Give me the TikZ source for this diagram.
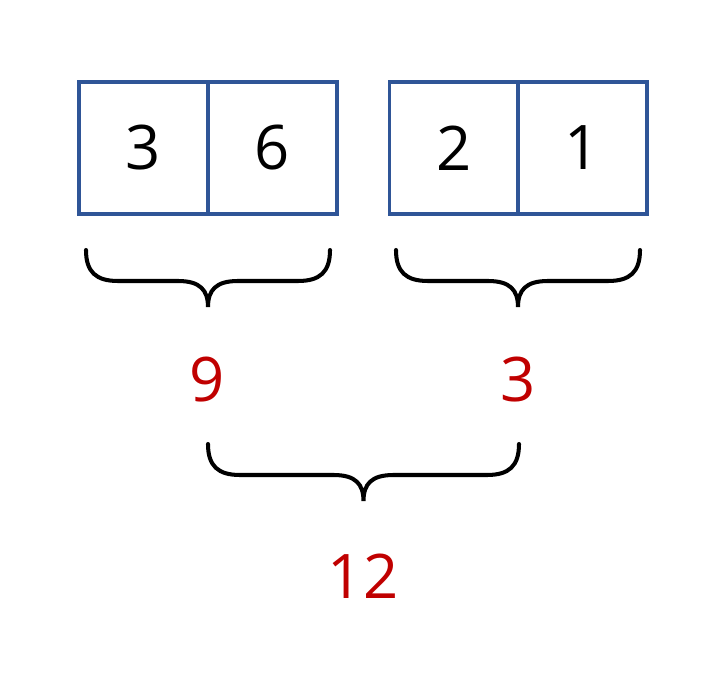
\documentclass[tikz,border=0pt]{standalone}
\usepackage{fontspec}
\setmainfont{Open Sans}
\usepackage{xcolor}
\definecolor{boxblue}{HTML}{2F5597}
\definecolor{sumred}{HTML}{C00000}
\tikzset{
  cell/.style={draw=boxblue, line width=2pt, minimum width=2.58cm, minimum height=2.64cm, inner sep=0pt, font=\fontsize{35}{40}\selectfont},
  total/.style={text=sumred, inner sep=0pt, font=\fontsize{35}{40}\selectfont},
  brace/.style={line width=2.3pt, line cap=round}
}
% left x, right x, top y
\newcommand{\drawbrace}[3]{%
  \draw[brace] (#1,#3) .. controls (#1,#3+22) and (#1+10,#3+31) .. (#1+32,#3+31)
    -- ({(#1+#2)/2-30},#3+31) .. controls ({(#1+#2)/2-8},#3+31) and ({(#1+#2)/2},#3+40) .. ({(#1+#2)/2},#3+57)
    .. controls ({(#1+#2)/2},#3+40) and ({(#1+#2)/2+8},#3+31) .. ({(#1+#2)/2+30},#3+31)
    -- (#2-32,#3+31) .. controls (#2-10,#3+31) and (#2,#3+22) .. (#2,#3);}
\begin{document}
\begin{tikzpicture}[x=0.02cm, y=-0.02cm]
  \useasboundingbox (0,0) rectangle (727,675);
  \node[cell] (c3) at (143.5,148) {3};
  \node[cell] (c6) at (272.5,148) {6};
  \node[cell] (c2) at (454,148) {2};
  \node[cell] (c1) at (582.5,148) {1};

  \drawbrace{86}{330}{250}
  \drawbrace{396}{640}{250}

  \node[total] (s9) at (207,380) {9};
  \node[total] (s3) at (518,380) {3};

  \drawbrace{208}{519}{444}

  \node[total] (s12) at (363,576) {12};
\end{tikzpicture}
\end{document}
